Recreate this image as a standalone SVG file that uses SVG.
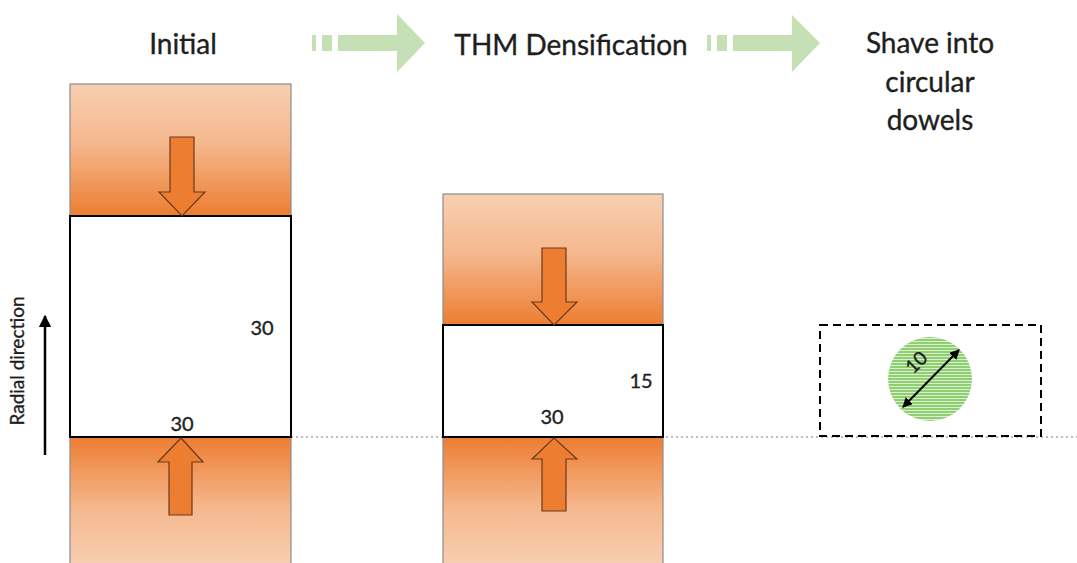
<svg xmlns="http://www.w3.org/2000/svg" width="1077" height="563" viewBox="0 0 1077 563">
<style>
.t{font-family:Lato,"Open Sans","Liberation Sans",sans-serif;fill:#1e1e1e;stroke:#1e1e1e;stroke-width:0.35}
.h{font-size:28px;text-anchor:middle}
.n{font-size:20px;text-anchor:middle}
.plate{stroke:#8c8c8c;stroke-width:1.2}
.box{fill:#fff;stroke:#000;stroke-width:2}
.oarr{fill:#ed7d31;stroke:#6b3a1a;stroke-width:1.2;stroke-linejoin:miter}
.garr{fill:#c5e0b4}
</style>
<defs>
<linearGradient id="gDown" x1="0" y1="0" x2="0" y2="1">
<stop offset="0" stop-color="#f8cfb2"/>
<stop offset="0.45" stop-color="#f5b88e"/>
<stop offset="1" stop-color="#ed7d31"/>
</linearGradient>
<linearGradient id="gUp" x1="0" y1="1" x2="0" y2="0">
<stop offset="0" stop-color="#f8cfb2"/>
<stop offset="0.45" stop-color="#f5b88e"/>
<stop offset="1" stop-color="#ed7d31"/>
</linearGradient>
<pattern id="stripes" width="6" height="3" patternUnits="userSpaceOnUse">
<rect width="6" height="3" fill="#8fcf72"/>
<rect y="2.1" width="6" height="0.9" fill="#e2f3d8"/>
</pattern>
<marker id="ah" viewBox="0 0 10 10" refX="9" refY="5" markerWidth="5" markerHeight="5" orient="auto-start-reverse">
<path d="M0,0 L10,5 L0,10 z" fill="#000"/>
</marker>
</defs>

<g id="titles">
<text class="t h" x="183" y="54">Initial</text>
<text class="t h" x="571" y="55">THM Densification</text>
<text class="t h" x="930" y="53">Shave into</text>
<text class="t h" x="930" y="92">circular</text>
<text class="t h" x="930" y="130">dowels</text>
</g>

<g id="connectors">
<g id="green-arrow-1" class="garr">
<rect x="312" y="35" width="4" height="16"/>
<rect x="322" y="35" width="10" height="16"/>
<path d="M338,35 L397,35 L397,14 L425,43 L397,72 L397,51 L338,51 z"/>
</g>
<g id="green-arrow-2" class="garr">
<rect x="707" y="35" width="4" height="16"/>
<rect x="717" y="35" width="10" height="16"/>
<path d="M733,35 L792,35 L792,15 L820,43 L792,72 L792,51 L733,51 z"/>
</g>
<line id="baseline" x1="291" y1="437" x2="1077" y2="437" stroke="#7f7f7f" stroke-width="1.2" stroke-dasharray="2,3"/>
</g>

<g id="initial">
<rect class="plate" x="70" y="84" width="221" height="132" fill="url(#gDown)"/>
<rect class="plate" x="70" y="437" width="221" height="130" fill="url(#gUp)"/>
<rect class="box" x="70" y="216" width="221" height="221"/>
<path class="oarr" d="M170,137 L194,137 L194,192 L205,192 L182,216 L159,192 L170,192 z"/>
<path class="oarr" d="M169,515 L192,515 L192,462 L203,462 L181,438 L158,462 L169,462 z"/>
<text class="t n" x="262" y="335">30</text>
<text class="t n" x="182" y="431">30</text>
</g>

<g id="densified">
<rect class="plate" x="443" y="194" width="220" height="131" fill="url(#gDown)"/>
<rect class="plate" x="443" y="437" width="220" height="130" fill="url(#gUp)"/>
<rect class="box" x="443" y="325" width="220" height="112"/>
<path class="oarr" d="M542,248 L566,248 L566,302 L577,302 L554,325 L532,302 L542,302 z"/>
<path class="oarr" d="M542,511 L566,511 L566,459 L577,459 L554,438 L532,459 L542,459 z"/>
<text class="t n" x="641" y="388">15</text>
<text class="t n" x="552" y="424">30</text>
</g>

<g id="dowel">
<rect x="820" y="325" width="221" height="111" fill="none" stroke="#000" stroke-width="2" stroke-dasharray="8,5"/>
<circle cx="930" cy="379" r="42" fill="url(#stripes)"/>
<line x1="903" y1="407" x2="959" y2="350" stroke="#000" stroke-width="2" marker-start="url(#ah)" marker-end="url(#ah)"/>
<text class="t" x="0" y="0" font-size="19" text-anchor="middle" font-family="Liberation Serif, serif" transform="translate(921,367) rotate(-45)">10</text>
</g>

<g id="radial">
<line x1="45" y1="455" x2="45" y2="316" stroke="#000" stroke-width="2.5" marker-end="url(#ah)"/>
<text class="t" x="0" y="0" font-size="19" text-anchor="middle" transform="translate(24,361) rotate(-90)">Radial direction</text>
</g>
</svg>
